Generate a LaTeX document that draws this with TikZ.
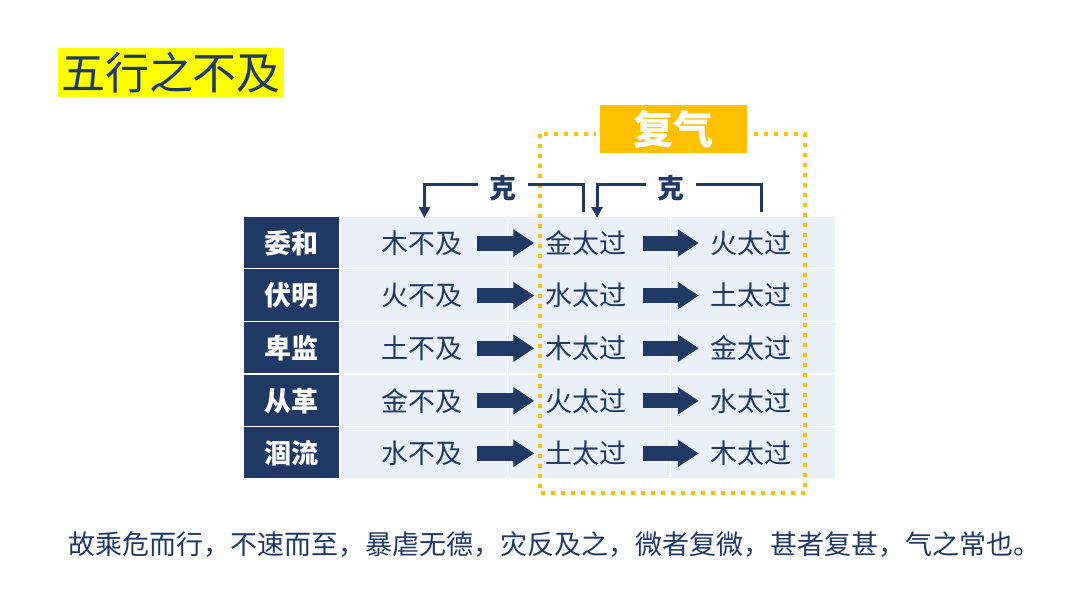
\documentclass[tikz,border=0pt]{standalone}
\usepackage{fontspec}
\setmainfont{Noto Sans CJK SC}
\usetikzlibrary{arrows.meta,calc}
\definecolor{navy}{HTML}{1F3864}
\definecolor{cellbg}{HTML}{EAF0F8}
\definecolor{gold}{HTML}{FFC000}
\definecolor{ttlyel}{HTML}{FFFF00}
\tikzset{
  celltext/.style={text=navy, inner sep=0pt, font=\fontsize{27}{30}\selectfont},
  headtext/.style={text=white, inner sep=0pt, font=\fontsize{27}{30}\selectfont\bfseries},
  blk/.style={navy, line width=15pt, -{Triangle[length=21pt,width=26pt]}},
  kebracket/.style={navy, line width=3pt},
  kearrow/.style={navy, line width=3pt, -{Triangle[length=11pt,width=11pt]}},
  ketext/.style={text=navy, inner sep=0pt, minimum width=50pt, font=\fontsize{27}{30}\selectfont\bfseries},
  dotbox/.style={gold, line width=4pt, dash pattern=on 4pt off 6pt},
}
\begin{document}
\begin{tikzpicture}[x=1pt,y=-1pt]
\useasboundingbox[fill=white] (0,0) rectangle (1080,608);

% title
\fill[ttlyel] (58,48) rectangle (284,97);
\node[text=navy, inner sep=0pt, font=\fontsize{44}{48}\selectfont] (title) at (171,73) {五行之不及};

% table
\foreach \h/\a/\b/\c [count=\i from 0] in {委和/木不及/金太过/火太过, 伏明/火不及/水太过/土太过, 卑监/土不及/木太过/金太过, 从革/金不及/火太过/水太过, 涸流/水不及/土太过/木太过}{
  \pgfmathsetmacro{\yt}{216+52.6*\i}
  \pgfmathsetmacro{\yb}{216+52.6*(\i+1)}
  \pgfmathsetmacro{\yc}{216+52.6*\i+27}
  \fill[navy] (244,\yt+0.7) rectangle (339,\yb-0.7);
  \fill[cellbg] (340,\yt+0.7) rectangle (506.5,\yb-0.7);
  \fill[cellbg] (507.5,\yt+0.7) rectangle (669.5,\yb-0.7);
  \fill[cellbg] (670.5,\yt+0.7) rectangle (835,\yb-0.7);
  \node[headtext] (h\i) at (291,\yc) {\h};
  \node[celltext] (a\i) at (422,\yc) {\a};
  \node[celltext] (b\i) at (586,\yc) {\b};
  \node[celltext] (c\i) at (751,\yc) {\c};
  \draw[blk] ([xshift=14pt]a\i.east) -- ([xshift=-11pt]b\i.west);
  \draw[blk] ([xshift=16.5pt]b\i.east) -- ([xshift=-11.5pt]c\i.west);
}

% dotted box
\draw[dotbox] (540,134) rectangle (805,493);

% 复气 label
\fill[white] (596,102) rectangle (751,156);
\node[fill=gold, minimum width=147pt, minimum height=48pt, inner sep=0pt, text=white,
      font=\fontsize{40}{44}\selectfont\bfseries] (fuqi) at (673.5,129) {复气};

% 克 brackets
\coordinate (k1foot) at (583,212);
\coordinate (k1top) at (583,184);
\coordinate (k1tip) at (424.5,218);
\node[ketext] (ke1) at (503,188) {克};
\draw[kebracket] (k1foot) -- (k1top) -- (ke1.east |- k1top);
\draw[kearrow] (ke1.west |- k1top) -| (k1tip);

\coordinate (k2foot) at (761,212);
\coordinate (k2top) at (761,184);
\coordinate (k2tip) at (597,218);
\node[ketext] (ke2) at (671,188) {克};
\draw[kebracket] (k2foot) -- (k2top) -- (ke2.east |- k2top);
\draw[kearrow] (ke2.west |- k2top) -| (k2tip);

% verse
\node[anchor=west, text=navy, inner sep=0pt, font=\fontsize{27}{30}\selectfont] (verse) at (68,545)
  {故乘危而行，不速而至，暴虐无德，灾反及之，微者复微，甚者复甚，气之常也。};
\end{tikzpicture}
\end{document}
